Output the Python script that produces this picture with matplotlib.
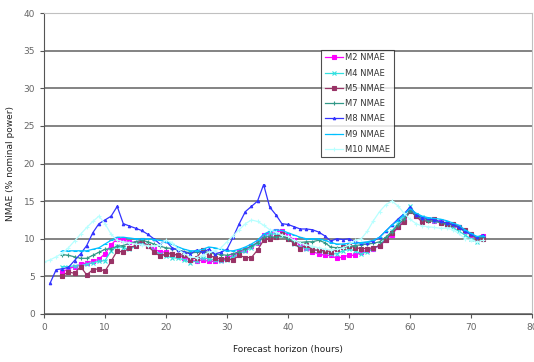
import numpy as np
import matplotlib
matplotlib.use("Agg")
import matplotlib.pyplot as plt

nan = np.nan
hours = np.arange(0, 73)

m2 = [nan, nan, nan, 5.6, 6.0, 6.3, 6.6, 6.8, 7.0, 7.3, 8.0, 9.2, 10.0, 9.8, 9.6, 9.5, 9.5, 9.0, 8.6, 8.3,
      8.2, 8.0, 7.8, 7.5, 7.2, 7.0, 7.2, 7.0, 7.0, 7.2, 7.5, 7.8, 8.2, 8.5, 9.0, 9.5, 10.5, 10.8, 11.0, 11.0,
      10.5, 9.8, 9.2, 8.8, 8.3, 8.0, 7.8, 7.8, 7.4, 7.6, 7.8, 7.8, 8.2, 8.5, 8.7, 9.0, 9.8, 10.5, 11.5, 12.5,
      13.8, 13.0, 12.5, 12.5, 12.3, 12.2, 12.0, 11.8, 11.5, 11.0, 10.5, 10.0, 10.3]
m4 = [nan, nan, nan, 6.3, 6.3, 6.4, 6.4, 6.6, 6.8, 7.0, 7.1, 8.4, 9.0, 8.8, 8.6, 9.0, 9.5, 9.2, 8.4, 8.0,
      7.7, 7.5, 7.4, 7.2, 6.8, 7.1, 7.5, 7.3, 7.2, 7.0, 7.2, 7.6, 8.0, 8.4, 8.8, 9.4, 10.2, 10.7, 10.6, 10.5,
      10.1, 9.3, 8.9, 8.7, 8.6, 8.4, 8.2, 8.0, 8.0, 8.4, 8.6, 8.4, 8.0, 8.3, 8.6, 9.2, 10.0, 11.0, 12.0, 13.0,
      14.3, 13.2, 12.9, 12.6, 12.4, 12.1, 11.8, 11.5, 11.0, 10.5, 10.0, 9.6, 10.0]
m5 = [nan, nan, nan, 5.1, 5.6, 5.4, 6.3, 5.2, 5.9, 6.0, 5.7, 7.0, 8.4, 8.2, 8.8, 9.1, 9.8, 9.0, 8.3, 7.7,
      8.0, 8.0, 7.8, 7.9, 7.2, 7.5, 8.5, 7.8, 7.5, 7.3, 7.3, 7.2, 7.8, 7.5, 7.5, 8.5, 9.8, 10.0, 10.2, 10.6,
      10.0, 9.4, 8.7, 9.2, 8.5, 8.5, 8.4, 8.3, 8.6, 8.9, 9.1, 8.8, 8.7, 8.7, 8.8, 9.1, 9.8, 10.8, 11.5, 12.2,
      13.7, 13.0, 12.2, 12.5, 12.6, 12.1, 12.0, 11.9, 11.6, 11.1, 10.6, 10.0, 10.0]
m7 = [nan, nan, nan, 7.9, 7.8, 7.6, 7.4, 7.4, 7.8, 8.2, 8.6, 8.7, 9.0, 9.1, 9.4, 9.6, 9.8, 9.6, 9.3, 9.0,
      8.8, 8.7, 8.5, 8.3, 8.1, 8.2, 8.3, 8.2, 8.0, 7.9, 7.8, 8.0, 8.3, 8.7, 9.0, 9.5, 10.2, 10.3, 10.2, 10.3,
      10.0, 9.7, 9.5, 9.6, 9.6, 9.8, 9.5, 8.9, 8.8, 8.8, 9.0, 9.1, 9.2, 9.3, 9.4, 9.6, 10.2, 10.9, 11.8, 12.6,
      13.7, 13.1, 12.6, 12.4, 12.3, 12.2, 12.0, 11.8, 11.5, 11.0, 10.6, 10.1, 10.2]
m8 = [nan, 4.1, 5.9, 6.0, 6.2, 7.1, 8.0, 9.1, 10.8, 12.0, 12.5, 13.0, 14.3, 12.0, 11.7, 11.4, 11.1, 10.6, 10.0, 9.3,
      9.7, 8.8, 8.5, 8.2, 8.0, 8.5, 8.2, 8.6, 8.0, 8.2, 8.6, 10.2, 12.0, 13.6, 14.3, 15.0, 17.2, 14.2, 13.2, 12.0,
      11.9, 11.6, 11.3, 11.3, 11.2, 10.9, 10.4, 9.7, 10.0, 9.9, 10.0, 9.6, 9.4, 9.5, 9.7, 10.2, 11.0, 11.8, 12.6, 13.3,
      14.2, 13.2, 12.8, 12.7, 12.5, 12.3, 12.1, 11.9, 11.5, 11.0, 10.6, 10.2, 10.5]
m9 = [nan, nan, nan, 8.4, 8.4, 8.4, 8.4, 8.4, 8.6, 8.8, 9.3, 9.8, 10.2, 10.2, 10.1, 10.0, 10.0, 10.0, 9.9, 9.8,
      9.6, 9.3, 8.9, 8.6, 8.4, 8.4, 8.6, 8.9, 8.8, 8.6, 8.4, 8.4, 8.6, 8.9, 9.3, 9.8, 10.6, 11.0, 11.2, 11.1,
      10.8, 10.5, 10.2, 10.0, 10.0, 10.0, 9.8, 9.5, 9.3, 9.3, 9.4, 9.4, 9.5, 9.6, 9.8, 10.2, 11.0, 11.8, 12.4, 13.2,
      14.0, 13.4, 13.0, 12.8, 12.7, 12.6, 12.4, 12.1, 11.8, 11.2, 10.7, 10.3, 10.4]
m10 = [6.9, 7.2, 7.6, 8.1, 8.8, 9.7, 10.6, 11.5, 12.3, 13.0, 12.0, 10.6, 9.8, 9.6, 9.5, 9.3, 9.2, 9.1, 9.0, 9.2,
       9.8, 9.5, 8.6, 8.0, 7.6, 7.5, 7.8, 8.2, 8.4, 8.8, 9.6, 10.4, 11.2, 12.0, 12.5, 12.3, 11.8, 11.2, 10.9, 10.5,
       10.3, 9.8, 9.4, 9.2, 9.0, 8.8, 8.6, 8.5, 8.6, 8.8, 9.2, 9.8, 10.0, 11.0, 12.4, 13.6, 14.5, 15.0, 14.4, 13.4,
       12.6, 12.0, 11.7, 11.6, 11.5, 11.4, 11.4, 11.2, 10.7, 10.0, 9.9, 9.6, 9.8]

series = [
    ("M2 NMAE", m2, "#ff00ff", "s", 2.2),
    ("M4 NMAE", m4, "#33e0e0", "x", 2.2),
    ("M5 NMAE", m5, "#993366", "s", 2.2),
    ("M7 NMAE", m7, "#339988", "+", 2.6),
    ("M8 NMAE", m8, "#3333ff", "^", 1.8),
    ("M9 NMAE", m9, "#00c0ff", "_", 2.6),
    ("M10 NMAE", m10, "#b8ffff", "+", 2.6),
]

fig = plt.figure(figsize=(5.34, 3.62), dpi=100)
ax = fig.add_axes([0.0824, 0.1326, 0.9139, 0.8314])

for name, vals, col, mk, ms in series:
    ax.plot(hours, vals, color=col, lw=0.9, marker=mk, markersize=ms,
            markeredgewidth=0.8, label=name)

ax.set_xlim(0, 80)
ax.set_ylim(0, 40)
ax.set_xticks(np.arange(0, 81, 10))
ax.set_yticks(np.arange(0, 41, 5))
ax.yaxis.grid(True, color="#7a7a7a", lw=1.3)
ax.set_axisbelow(True)

for s in ["top", "right"]:
    ax.spines[s].set_color("#c0c0c0")
for s in ["left", "bottom"]:
    ax.spines[s].set_color("#555555")
ax.tick_params(colors="#555555", labelcolor="#666666", labelsize=6.5, length=3, width=0.8)

ax.set_xlabel("Forecast horizon (hours)", fontsize=6.5, color="#222222", labelpad=9)
ax.set_ylabel("NMAE (% nominal power)", fontsize=6.5, color="#222222", labelpad=6)

leg = ax.legend(loc="upper left", bbox_to_anchor=(0.568, 0.877), fontsize=6,
                frameon=True, fancybox=False, handlelength=2.2, borderpad=0.4,
                labelspacing=0.75, handletextpad=0.3, borderaxespad=0)
leg.get_frame().set_edgecolor("#222222")
leg.get_frame().set_linewidth(0.8)
for t in leg.get_texts():
    t.set_color("#333333")

fig.savefig("out.png", dpi=100)
